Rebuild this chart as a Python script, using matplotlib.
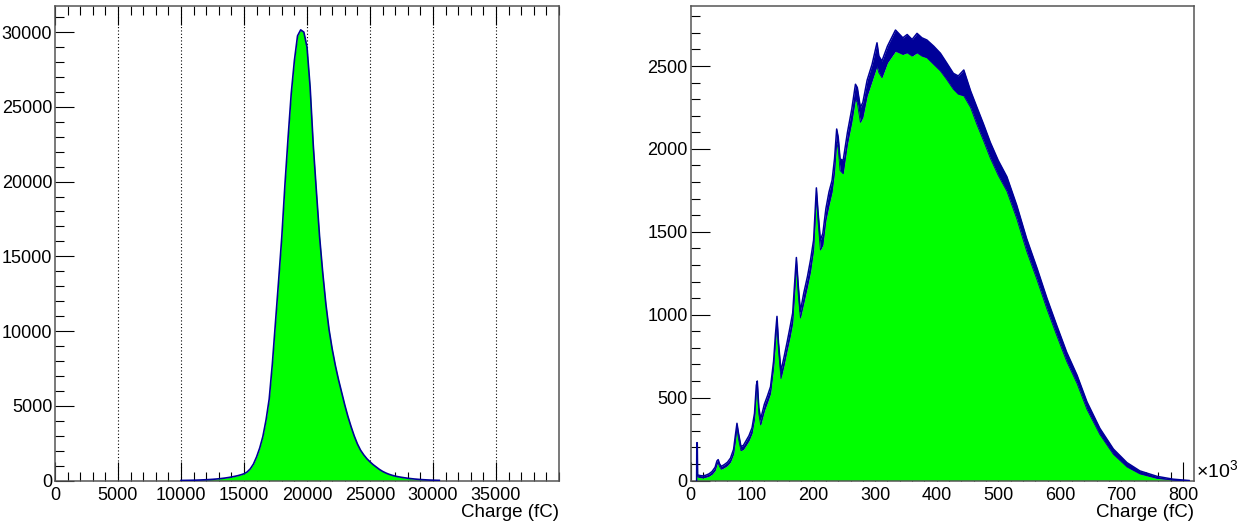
import numpy as np
import matplotlib.pyplot as plt
from matplotlib.ticker import MultipleLocator, FixedLocator

plt.rcParams['font.family'] = ['Liberation Sans', 'DejaVu Sans']
plt.rcParams['mathtext.fontset'] = 'custom'
plt.rcParams['mathtext.rm'] = 'Liberation Sans'

# left histogram: charge (fC) -> counts
charge_l = np.arange(10000, 30750, 250)
counts_l = [5, 7, 10, 14, 19, 25, 33, 42, 52, 64,
            78, 95, 115, 138, 165, 197, 233, 275, 322, 380,
            450, 570, 780, 1100, 1580, 2180, 2950, 4050, 5450, 7800,
            10600, 13400, 16300, 19800, 22950, 25900, 28100, 29750, 30150, 30000,
            29000, 26300, 22400, 19300, 16300, 13900, 11800, 10100, 8800, 7700,
            6750, 5900, 5050, 4280, 3600, 2980, 2450, 2030, 1720, 1460,
            1250, 1060, 900, 740, 610, 505, 420, 350, 292, 250,
            213, 180, 150, 125, 102, 83, 66, 52, 40, 30,
            22, 15, 10]

# right histogram: charge (x10^3 fC), lower / upper edge of the noisy outline
charge_r = [9.9, 10.2, 11.0, 11.6, 15, 20, 25, 30, 35, 40,
            43, 45, 47, 50, 55, 60, 65, 70, 73, 75.5,
            78, 82, 86, 90, 95, 100, 104, 107, 108.5, 111,
            114, 120, 125, 130, 135, 138, 140.5, 143, 147, 152,
            157, 162, 166, 169, 172, 175, 178.5, 184, 190, 195,
            200, 202, 204.5, 207, 211, 215, 220, 225, 230, 234,
            237.5, 240, 243, 248, 255, 262, 268, 271, 276, 280,
            287, 295, 303, 306, 311, 320, 333, 345, 352, 360,
            368, 376, 384, 395, 406, 416, 427, 435, 444, 455,
            465, 476, 487, 500, 514, 530, 546, 563, 579, 595,
            611, 628, 644, 665, 687, 709, 730, 758, 784, 800, 810]
counts_lo = [0, 205, 205, 22, 18, 16, 20, 26, 38, 60,
             98, 108, 85, 68, 78, 90, 112, 160, 240, 320,
             250, 180, 188, 210, 240, 285, 370, 540, 570, 400,
             335, 420, 470, 525, 680, 835, 950, 780, 615, 695,
             785, 870, 950, 1120, 1300, 1120, 980, 1070, 1170, 1260,
             1390, 1530, 1720, 1570, 1390, 1420, 1570, 1660, 1740, 1860,
             2040, 2000, 1870, 1850, 2030, 2160, 2300, 2280, 2160, 2190,
             2320, 2410, 2500, 2460, 2430, 2520, 2590, 2570, 2580, 2560,
             2580, 2560, 2550, 2510, 2470, 2420, 2360, 2330, 2320, 2250,
             2150, 2050, 1945, 1840, 1745, 1580, 1385, 1210, 1035, 875,
             720, 585, 430, 278, 158, 82, 40, 13, 3, 0, 0]
counts_hi = [0, 228, 228, 34, 30, 28, 32, 40, 54, 80,
             118, 126, 102, 85, 96, 110, 135, 188, 275, 345,
             285, 205, 212, 238, 270, 318, 405, 575, 600, 440,
             370, 460, 510, 565, 720, 880, 990, 830, 660, 745,
             835, 930, 1010, 1180, 1345, 1180, 1020, 1130, 1230, 1330,
             1450, 1590, 1765, 1630, 1450, 1490, 1640, 1740, 1810, 1940,
             2120, 2070, 1940, 1930, 2100, 2240, 2390, 2370, 2250, 2280,
             2415, 2510, 2640, 2560, 2530, 2620, 2717, 2670, 2690, 2660,
             2697, 2670, 2657, 2620, 2577, 2520, 2456, 2440, 2476, 2350,
             2254, 2150, 2040, 1930, 1832, 1660, 1460, 1280, 1100, 935,
             775, 635, 475, 315, 190, 108, 58, 25, 8, 3, 0]

green = '#00ff00'
navy = '#000099'
W, H = 1243, 527

fig = plt.figure(figsize=(W / 100, H / 100), dpi=100)
ax1 = fig.add_axes([55 / W, 1 - 480.5 / H, (559 - 55) / W, 475 / H])
ax2 = fig.add_axes([690.5 / W, 1 - 480.5 / H, (1194 - 690.5) / W, 475 / H])

# left panel
ax1.fill_between(charge_l, counts_l, color=green, lw=0, zorder=2)
ax1.plot(charge_l, counts_l, color=navy, lw=1.2, zorder=3)
ax1.set_xlim(0, 40000)
ax1.set_ylim(0, 31780)
ax1.xaxis.set_major_locator(FixedLocator(range(0, 40000, 5000)))
ax1.xaxis.set_minor_locator(MultipleLocator(1000))
ax1.yaxis.set_major_locator(MultipleLocator(5000))
ax1.yaxis.set_minor_locator(MultipleLocator(1000))
for g in range(5000, 40000, 5000):
    ax1.axvline(g, color='black', lw=0.8, ls=(0, (1, 2)), zorder=1)
ax1.tick_params(axis='x', which='both', top=True, bottom=True)

# right panel
ax2.fill_between(charge_r, counts_lo, color=green, lw=0, zorder=2)
ax2.fill_between(charge_r, counts_lo, counts_hi, color=navy, lw=0, zorder=3)
ax2.plot(charge_r, counts_hi, color=navy, lw=1.1, zorder=3)
ax2.plot(charge_r, counts_lo, color=navy, lw=0.6, zorder=3)
ax2.set_xlim(0, 818)
ax2.set_ylim(0, 2865)
ax2.xaxis.set_major_locator(MultipleLocator(100))
ax2.xaxis.set_minor_locator(MultipleLocator(20))
ax2.yaxis.set_major_locator(MultipleLocator(500))
ax2.yaxis.set_minor_locator(MultipleLocator(100))
ax2.text(1.003, 0.02, '×10$^{3}$', transform=ax2.transAxes,
         ha='left', va='center', fontsize=14)

for ax in (ax1, ax2):
    for s in ax.spines.values():
        s.set_color('#555555')
        s.set_linewidth(1.1)
    ax.tick_params(which='both', direction='in', colors='black', labelsize=13, width=0.8)
    ax.tick_params(which='major', length=13.5)
    ax.tick_params(which='minor', length=6.5)
    ax.tick_params(axis='x', which='major', pad=4.5)
    ax.tick_params(axis='y', which='major', pad=2)
    ax.text(1.0, -0.067, 'Charge (fC)', transform=ax.transAxes,
            ha='right', va='center', fontsize=13.5)

fig.savefig('out.png', dpi=100)
